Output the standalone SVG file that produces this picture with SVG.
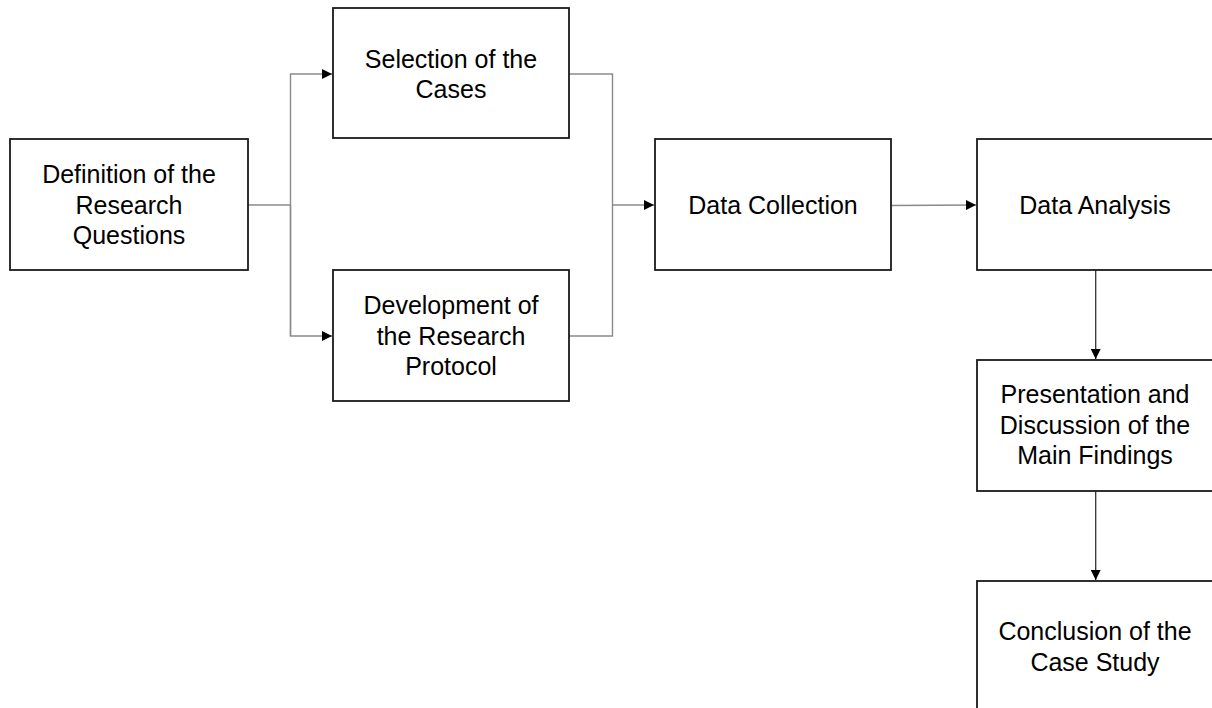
<svg xmlns="http://www.w3.org/2000/svg" width="1212" height="708" viewBox="0 0 1212 708">
  <style>
    .box { fill: #ffffff; stroke: #1a1a1a; stroke-width: 1.8; }
    .lbl { font-family: "Liberation Sans", Arial, sans-serif; font-size: 25px; fill: #000000; text-anchor: middle; }
    .conn { fill: none; stroke: #8a8a8a; stroke-width: 1.4; }
    .conn-dark { fill: none; stroke: #333333; stroke-width: 1.3; }
  </style>
  <defs>
    <marker id="arrow" viewBox="0 0 10 10" refX="10" refY="5" markerWidth="10" markerHeight="10" markerUnits="userSpaceOnUse" orient="auto">
      <path d="M0,0 L10,5 L0,10 Z" fill="#000000"/>
    </marker>
  </defs>
  <rect width="1212" height="708" fill="#ffffff"/>

  <g id="connectors">
    <path class="conn" d="M248,205 H290.5"/>
    <path class="conn" d="M290.5,336 V74 H332" marker-end="url(#arrow)"/>
    <path class="conn" d="M290.5,205 V336 H332" marker-end="url(#arrow)"/>
    <path class="conn" d="M569,74 H612.5 V336 H569"/>
    <path class="conn" d="M612.5,205 H654" marker-end="url(#arrow)"/>
    <path class="conn" d="M891,205.5 L976,205" marker-end="url(#arrow)"/>
    <path class="conn-dark" d="M1095.7,270 V359" marker-end="url(#arrow)"/>
    <path class="conn-dark" d="M1095.7,491 V580" marker-end="url(#arrow)"/>
  </g>

  <g id="node-definition">
    <rect class="box" x="10" y="139" width="238" height="131"/>
    <text class="lbl" x="129" y="183">Definition of the</text>
    <text class="lbl" x="129" y="213.5">Research</text>
    <text class="lbl" x="129" y="244">Questions</text>
  </g>

  <g id="node-selection">
    <rect class="box" x="333" y="8" width="236" height="130"/>
    <text class="lbl" x="451" y="67.5">Selection of the</text>
    <text class="lbl" x="451" y="98">Cases</text>
  </g>

  <g id="node-development">
    <rect class="box" x="333" y="270" width="236" height="131"/>
    <text class="lbl" x="451" y="314">Development of</text>
    <text class="lbl" x="451" y="344.5">the Research</text>
    <text class="lbl" x="451" y="375">Protocol</text>
  </g>

  <g id="node-data-collection">
    <rect class="box" x="655" y="139" width="236" height="131"/>
    <text class="lbl" x="773" y="213.5">Data Collection</text>
  </g>

  <g id="node-data-analysis">
    <rect class="box" x="977" y="139" width="236" height="131"/>
    <text class="lbl" x="1095" y="213.5">Data Analysis</text>
  </g>

  <g id="node-presentation">
    <rect class="box" x="977" y="360" width="236" height="131"/>
    <text class="lbl" x="1095" y="403">Presentation and</text>
    <text class="lbl" x="1095" y="433.5">Discussion of the</text>
    <text class="lbl" x="1095" y="464">Main Findings</text>
  </g>

  <g id="node-conclusion">
    <rect class="box" x="977" y="581" width="236" height="131"/>
    <text class="lbl" x="1095" y="640">Conclusion of the</text>
    <text class="lbl" x="1095" y="670.5">Case Study</text>
  </g>
</svg>
